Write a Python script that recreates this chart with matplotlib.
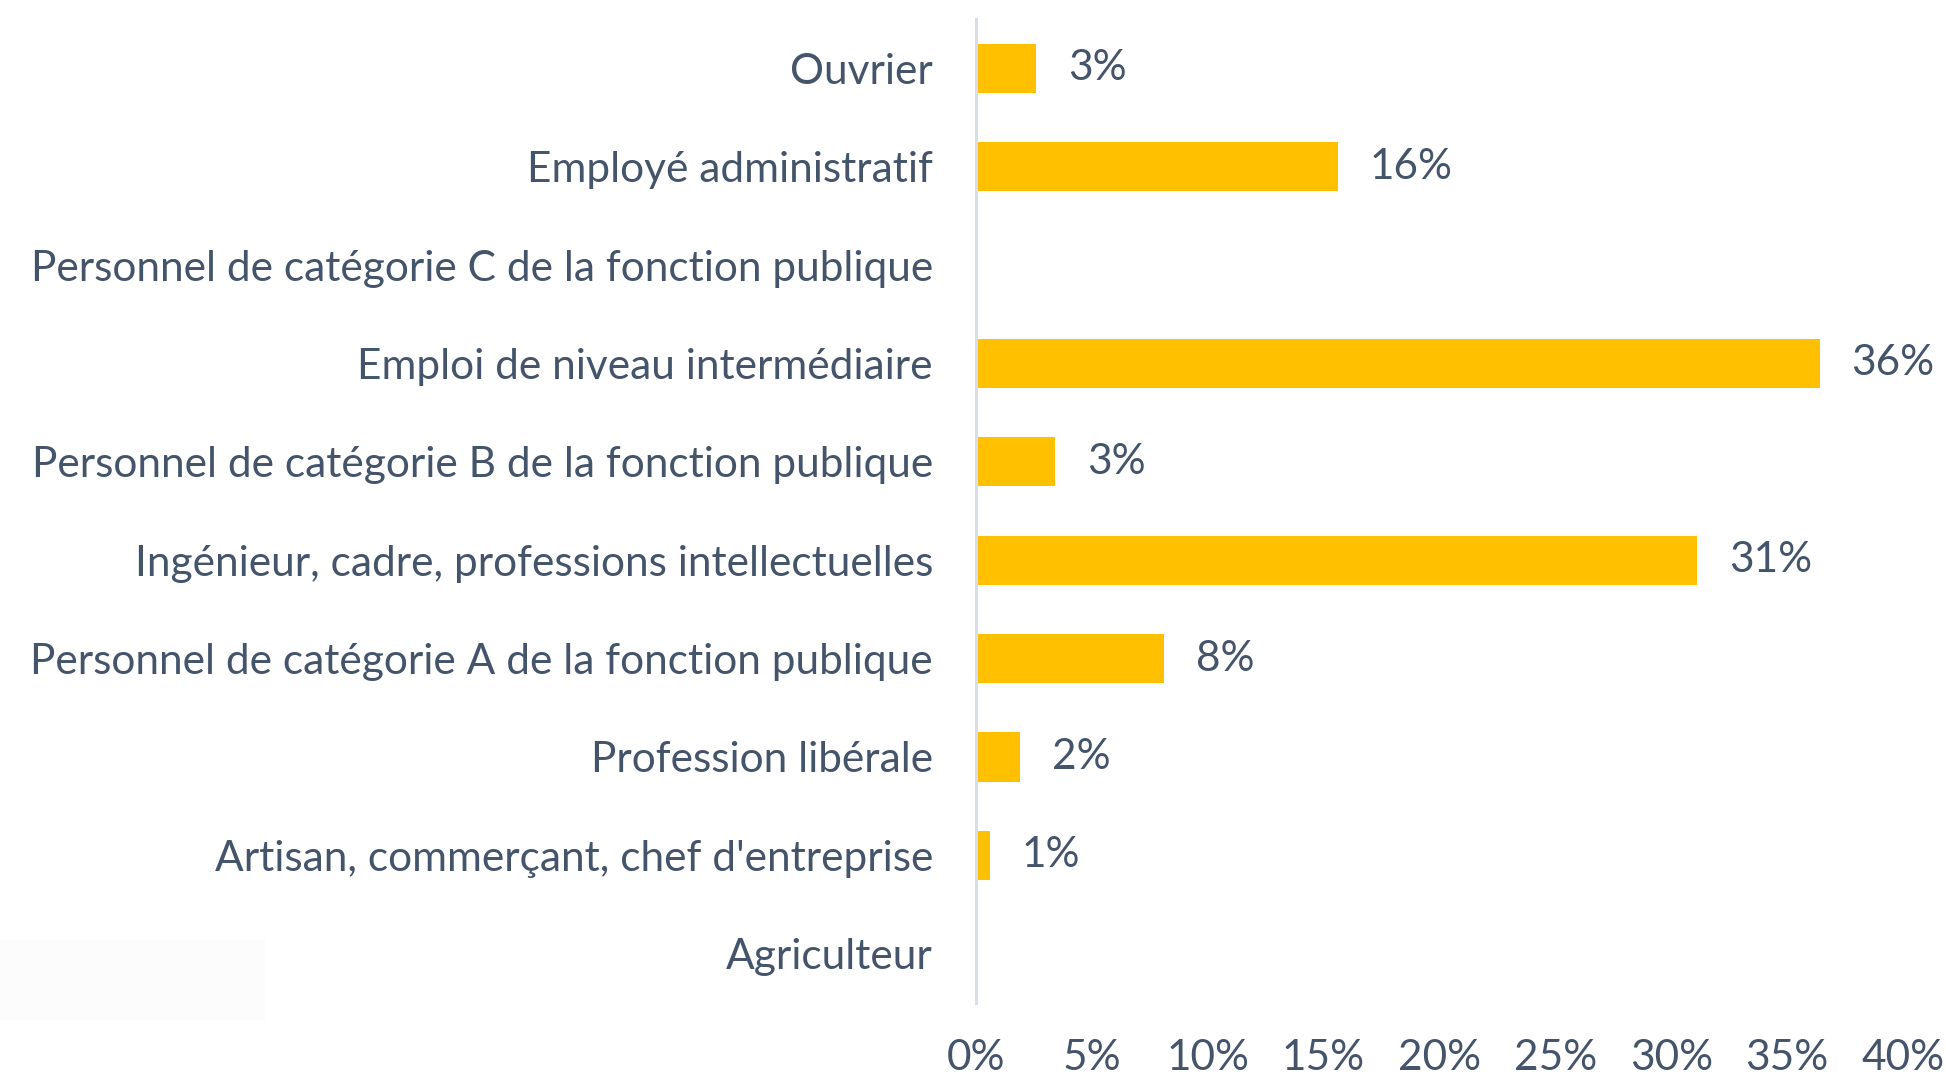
import matplotlib
matplotlib.use("Agg")
import matplotlib.pyplot as plt
from matplotlib.patches import Rectangle

# data (percent)
categories = [
    "Ouvrier",
    "Employé administratif",
    "Personnel de catégorie C de la fonction publique",
    "Emploi de niveau intermédiaire",
    "Personnel de catégorie B de la fonction publique",
    "Ingénieur, cadre, professions intellectuelles",
    "Personnel de catégorie A de la fonction publique",
    "Profession libérale",
    "Artisan, commerçant, chef d'entreprise",
    "Agriculteur",
]
values = [2.6, 15.6, 0, 36.4, 3.4, 31.1, 8.1, 1.9, 0.6, 0]
x_ticks = [0, 5, 10, 15, 20, 25, 30, 35, 40]

BAR_COLOR = "#FFC000"
TEXT_COLOR = "#44546A"
FS = 30.5

plt.rcParams['font.family'] = ['Lato', 'DejaVu Sans']

W, H = 1946, 1076
fig = plt.figure(figsize=(W / 100, H / 100), dpi=100)
ax = fig.add_axes([976 / W, 1 - 1003 / H, (1903 - 976) / W, (1003 - 19) / H])

# faint box bottom left, as in the reference
fig.patches.append(Rectangle((0, 1 - 1020 / H), 265 / W, 80 / H, transform=fig.transFigure,
                             facecolor="#FCFCFC", edgecolor="none", zorder=0))

ypos = list(range(len(categories)))
ax.barh(ypos, values, height=0.5, color=BAR_COLOR)

for y, v in zip(ypos, values):
    if v > 0:
        ax.annotate(f"{v:.0f}%", (v, y), xytext=(23, 0), textcoords="offset points",
                    va="center", ha="left", fontsize=FS, color=TEXT_COLOR)

ax.set_xlim(0, 40)
ax.set_ylim(9.5, -0.5)
ax.set_yticks(ypos)
ax.set_yticklabels(categories, fontsize=FS, color=TEXT_COLOR)
ax.set_xticks(x_ticks)
ax.set_xticklabels([f"{t}%" for t in x_ticks], fontsize=FS, color=TEXT_COLOR)
ax.tick_params(axis="y", length=0, pad=31)
ax.tick_params(axis="x", length=0, pad=26)

for s in ["top", "right", "bottom"]:
    ax.spines[s].set_visible(False)
ax.spines["left"].set_color("#D9DEE6")
ax.spines["left"].set_linewidth(2.2)

fig.savefig("out.png", dpi=100)
